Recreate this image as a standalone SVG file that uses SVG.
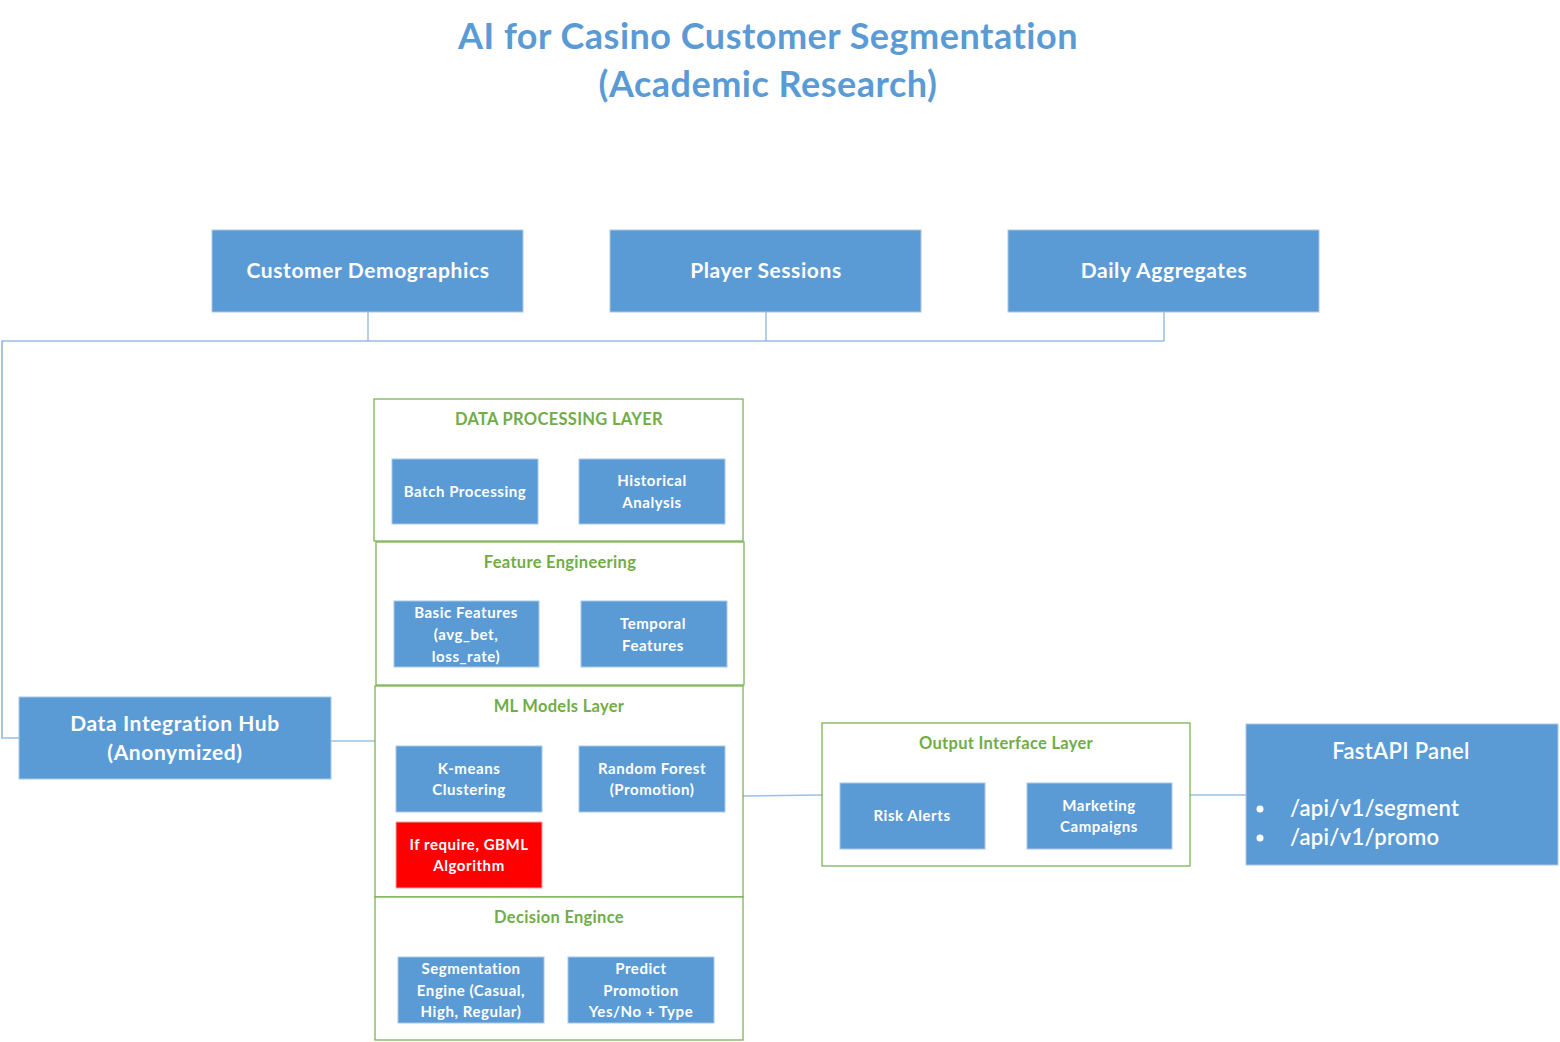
<svg xmlns="http://www.w3.org/2000/svg" width="1560" height="1042" viewBox="0 0 1560 1042">
<style>
  .box { fill: #5B9BD5; stroke: #A9C8E8; stroke-width: 1; }
  .red { fill: #FF0000; stroke: #F4A0A0; stroke-width: 1; }
  .layer { fill: #FFFFFF; stroke: #70AD47; stroke-width: 1.2; }
  .t { font-family: Lato, "Liberation Sans", sans-serif; font-weight: bold; fill: #FFFFFF; text-anchor: middle; }
  .big { font-size: 21px; letter-spacing: 0.6px; }
  .hub { font-size: 21px; letter-spacing: 0.6px; }
  .sm { font-size: 15px; letter-spacing: 0.55px; }
  .lt { font-family: Lato, "Liberation Sans", sans-serif; font-weight: bold; fill: #70AD47; text-anchor: middle; font-size: 16.5px; letter-spacing: 0.3px; }
  .title { font-family: Lato, "Liberation Sans", sans-serif; font-weight: bold; fill: #5B9BD5; text-anchor: middle; font-size: 36px; letter-spacing: 0.5px; }
  .api { font-family: Lato, "Liberation Sans", sans-serif; font-weight: 600; fill: #FFFFFF; font-size: 22px; letter-spacing: 0.3px; }
  .c { fill: none; stroke: #6A9BD0; stroke-width: 1.2; }
  .cl { fill: none; stroke: #9DC0E4; stroke-width: 1.5; }
</style>

<g id="title">
  <text class="title" x="768" y="49">AI for Casino Customer Segmentation</text>
  <text class="title" x="768" y="97">(Academic Research)</text>
</g>

<g id="connectors">
  <path class="cl" d="M368 312 V341 M766 312 V341 M1164 312 V341"/>
  <path class="c" d="M1164 341 H2 V738 H19"/>
  <path class="cl" d="M331 741 H375"/>
  <path class="cl" d="M743 796 L822 795"/>
  <path class="cl" d="M1190 795 H1246"/>
</g>

<g id="customer-demographics">
  <rect class="box" x="212" y="230" width="311" height="82"/>
  <text class="t big" x="368" y="278">Customer Demographics</text>
</g>
<g id="player-sessions">
  <rect class="box" x="610" y="230" width="311" height="82"/>
  <text class="t big" x="766" y="278">Player Sessions</text>
</g>
<g id="daily-aggregates">
  <rect class="box" x="1008" y="230" width="311" height="82"/>
  <text class="t big" x="1164" y="278">Daily Aggregates</text>
</g>

<g id="data-integration-hub">
  <rect class="box" x="19" y="697" width="312" height="82"/>
  <text class="t hub" x="175" y="731">Data Integration Hub</text>
  <text class="t hub" x="175" y="760">(Anonymized)</text>
</g>

<g id="data-processing-layer">
  <rect class="layer" x="374" y="399" width="369" height="142"/>
  <text class="lt" x="559" y="425">DATA PROCESSING LAYER</text>
</g>
<g id="batch-processing">
  <rect class="box" x="392" y="459" width="146" height="65"/>
  <text class="t sm" x="465" y="497">Batch Processing</text>
</g>
<g id="historical-analysis">
  <rect class="box" x="579" y="459" width="146" height="65"/>
  <text class="t sm" x="652" y="486">Historical</text>
  <text class="t sm" x="652" y="508">Analysis</text>
</g>

<g id="feature-engineering">
  <rect class="layer" x="376" y="542" width="368" height="143"/>
  <text class="lt" x="560" y="568">Feature Engineering</text>
</g>
<g id="basic-features">
  <rect class="box" x="394" y="601" width="145" height="66"/>
  <text class="t sm" x="466" y="618">Basic Features</text>
  <text class="t sm" x="466" y="640">(avg_bet,</text>
  <text class="t sm" x="466" y="662">loss_rate)</text>
</g>
<g id="temporal-features">
  <rect class="box" x="581" y="601" width="146" height="66"/>
  <text class="t sm" x="653" y="629">Temporal</text>
  <text class="t sm" x="653" y="651">Features</text>
</g>

<g id="ml-models-layer">
  <rect class="layer" x="375" y="686" width="368" height="211"/>
  <text class="lt" x="559" y="712">ML Models Layer</text>
</g>
<g id="k-means">
  <rect class="box" x="396" y="746" width="146" height="66"/>
  <text class="t sm" x="469" y="774">K-means</text>
  <text class="t sm" x="469" y="795">Clustering</text>
</g>
<g id="random-forest">
  <rect class="box" x="579" y="746" width="146" height="66"/>
  <text class="t sm" x="652" y="774">Random Forest</text>
  <text class="t sm" x="652" y="795">(Promotion)</text>
</g>
<g id="gbml">
  <rect class="red" x="396" y="822" width="146" height="66"/>
  <text class="t sm" x="469" y="850">If require, GBML</text>
  <text class="t sm" x="469" y="871">Algorithm</text>
</g>

<g id="decision-engine">
  <rect class="layer" x="375" y="897" width="368" height="143"/>
  <text class="lt" x="559" y="923">Decision Engince</text>
</g>
<g id="segmentation-engine">
  <rect class="box" x="398" y="957" width="146" height="66"/>
  <text class="t sm" x="471" y="974">Segmentation</text>
  <text class="t sm" x="471" y="996">Engine (Casual,</text>
  <text class="t sm" x="471" y="1017">High, Regular)</text>
</g>
<g id="predict-promotion">
  <rect class="box" x="568" y="957" width="146" height="66"/>
  <text class="t sm" x="641" y="974">Predict</text>
  <text class="t sm" x="641" y="996">Promotion</text>
  <text class="t sm" x="641" y="1017">Yes/No + Type</text>
</g>

<g id="output-interface-layer">
  <rect class="layer" x="822" y="723" width="368" height="143"/>
  <text class="lt" x="1006" y="749">Output Interface Layer</text>
</g>
<g id="risk-alerts">
  <rect class="box" x="840" y="783" width="145" height="66"/>
  <text class="t sm" x="912" y="821">Risk Alerts</text>
</g>
<g id="marketing-campaigns">
  <rect class="box" x="1027" y="783" width="145" height="66"/>
  <text class="t sm" x="1099" y="811">Marketing</text>
  <text class="t sm" x="1099" y="832">Campaigns</text>
</g>

<g id="fastapi-panel">
  <rect class="box" x="1246" y="724" width="312" height="141"/>
  <text class="api" x="1401" y="759" text-anchor="middle">FastAPI Panel</text>
  <circle cx="1260" cy="809" r="3.5" fill="#FFFFFF"/>
  <circle cx="1260" cy="838" r="3.5" fill="#FFFFFF"/>
  <text class="api" x="1290" y="816">/api/v1/segment</text>
  <text class="api" x="1290" y="845">/api/v1/promo</text>
</g>
</svg>
